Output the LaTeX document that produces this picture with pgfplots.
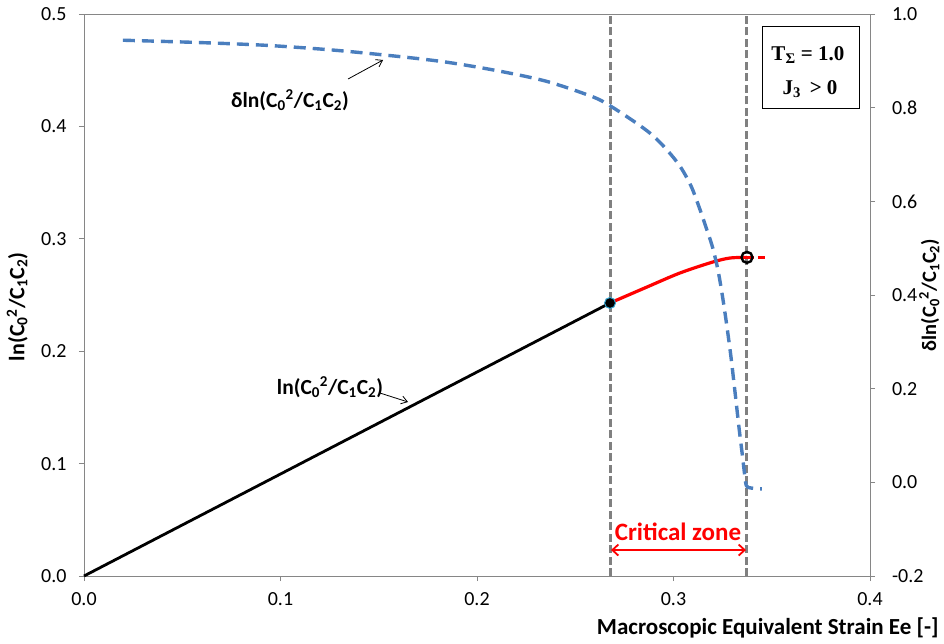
\documentclass[border=0pt]{standalone}
\usepackage{pgfplots}
\pgfplotsset{compat=1.18}
\usepackage{fontspec}
\setmainfont{Carlito}
\newfontfamily\serifb{Liberation Serif}
\usetikzlibrary{arrows.meta}
\definecolor{cblue}{RGB}{74,126,190}
\definecolor{cgray}{RGB}{128,128,128}
\definecolor{axgray}{RGB}{134,134,134}
\newcommand{\tfont}{\fontsize{20}{22}\selectfont}
\begin{document}
\begin{tikzpicture}[x=1pt,y=1pt]
\path[use as bounding box] (-84,-67) rectangle (860,576);
\begin{axis}[
  at={(0,0)}, anchor=south west,
  scale only axis, width=786pt, height=562pt,
  xmin=0, xmax=0.4, ymin=0, ymax=0.5,
  xtick={0,0.1,0.2,0.3,0.4},
  ytick={0,0.1,0.2,0.3,0.4,0.5},
  xtick pos=bottom, ytick pos=left,
  tick align=outside, major tick length=5pt,
  axis line style={draw=axgray, line width=0.8pt},
  tick style={draw=axgray, line width=0.8pt},
  xticklabel={\tfont\pgfmathprintnumber[fixed,fixed zerofill,precision=1,assume math mode=true]{\tick}},
  yticklabel={\tfont\pgfmathprintnumber[fixed,fixed zerofill,precision=1,assume math mode=true]{\tick}},
  xticklabel style={yshift=-8pt},
  yticklabel style={xshift=-9pt},
  xlabel={\textbf{Macroscopic Equivalent Strain Ee [-]}},
  xlabel style={font=\fontsize{23}{26}\selectfont, at={(axis description cs:1.0916,-0.0925)}, anchor=east},
  ylabel={\textbf{ln(C\textsubscript{0}\textsuperscript{2}/C\textsubscript{1}C\textsubscript{2})}},
  ylabel style={font=\fontsize{22}{25}\selectfont, at={(axis description cs:-0.085,0.479)}, anchor=center, rotate=0},
  clip=false,
]
% vertical dashed lines
\addplot[cgray, line width=3pt, dash pattern=on 8pt off 3.5pt] coordinates {(0.2677,0) (0.2677,0.5)};
\addplot[cgray, line width=3pt, dash pattern=on 8pt off 3.5pt] coordinates {(0.3374,0) (0.3374,0.5)};
% black line
\addplot[black, line width=2.8pt] coordinates {(0,0) (0.2677,0.2429)};
% red curve
\addplot[red, line width=3.2pt, smooth] coordinates {
 (0.2677,0.2429) (0.2865,0.2571) (0.3033,0.2696) (0.3201,0.2794) (0.3288,0.2829) (0.3374,0.2835)};
\addplot[red, line width=3.2pt, dash pattern=on 7pt off 4pt] coordinates {(0.3374,0.2835) (0.348,0.2835)};
% markers
\addplot[only marks, mark=*, mark size=5.5pt, mark options={fill=black, draw=cblue!70!cyan, line width=1pt}] coordinates {(0.2677,0.2429)};
\addplot[only marks, mark=o, mark size=5.5pt, mark options={draw=black, line width=2.4pt}] coordinates {(0.3374,0.2835)};
% annotations
\node[font=\fontsize{21.5}{24}\selectfont\bfseries] at (axis cs:0.1048,0.4235) {δln(C\textsubscript{0}\textsuperscript{2}/C\textsubscript{1}C\textsubscript{2})};
\draw[-{Straight Barb[length=6pt,width=8pt]}, line width=0.8pt] (axis cs:0.1344,0.4422) -- (axis cs:0.1522,0.4591);
\node[font=\fontsize{21.5}{24}\selectfont\bfseries] at (axis cs:0.1252,0.1681) {ln(C\textsubscript{0}\textsuperscript{2}/C\textsubscript{1}C\textsubscript{2})};
\draw[-{Straight Barb[length=6pt,width=8pt]}, line width=0.8pt] (axis cs:0.1506,0.1628) -- (axis cs:0.1649,0.1548);
\node[red, font=\fontsize{25}{28}\selectfont\bfseries] at (axis cs:0.3023,0.0391) {Critical zone};
\draw[red, line width=1.8pt, {Straight Barb[length=6pt,width=11pt]}-{Straight Barb[length=6pt,width=11pt]}] (axis cs:0.2682,0.0231) -- (axis cs:0.3369,0.0231);
% legend box
\node[draw=black, line width=1pt, minimum width=97pt, minimum height=82pt, fill=white] at (axis cs:0.3702,0.4528) {};
\node[font=\fontsize{21}{24}\selectfont\serifb\bfseries] at (axis cs:0.3684,0.4635) {T\textsubscript{Σ} = 1.0};
\node[font=\fontsize{21}{24}\selectfont\serifb\bfseries] at (axis cs:0.3695,0.4333) {J\textsubscript{3} \,> 0};
\end{axis}
\begin{axis}[
  at={(0,0)}, anchor=south west,
  scale only axis, width=786pt, height=562pt,
  xmin=0, xmax=0.4, ymin=-0.2, ymax=1.0,
  axis x line=none,
  axis y line*=right,
  ytick={-0.2,0,0.2,0.4,0.6,0.8,1.0},
  tick align=outside, major tick length=5pt,
  axis line style={draw=axgray, line width=0.8pt, -},
  tick style={draw=axgray, line width=0.8pt},
  yticklabel={\tfont\pgfmathprintnumber[fixed,fixed zerofill,precision=1,assume math mode=true]{\tick}},
  yticklabel style={xshift=13.5pt},
  ylabel={\textbf{δln(C\textsubscript{0}\textsuperscript{2}/C\textsubscript{1}C\textsubscript{2})}},
  ylabel style={font=\fontsize{20.5}{23}\selectfont, at={(axis description cs:1.0755,0.5)}, anchor=center, rotate=0},
  clip=false,
]
\addplot[cblue, line width=3.4pt, dash pattern=on 12pt off 7pt, smooth, tension=0.5] coordinates {
 (0.0198,0.944) (0.0590,0.939) (0.0931,0.933) (0.1267,0.923) (0.1608,0.909)
 (0.1847,0.897) (0.2102,0.879) (0.2356,0.856) (0.2590,0.823) (0.2677,0.804)
 (0.2794,0.772) (0.2885,0.744) (0.2962,0.712) (0.3033,0.675) (0.3089,0.633)
 (0.3130,0.588) (0.3165,0.545) (0.3198,0.503) (0.3224,0.458) (0.3244,0.411)
 (0.3265,0.353) (0.3290,0.276) (0.3310,0.204) (0.3333,0.118) (0.3349,0.063)
 (0.3364,0.011) (0.3377,-0.010) (0.3450,-0.014)};
\end{axis}
\end{tikzpicture}
\end{document}
